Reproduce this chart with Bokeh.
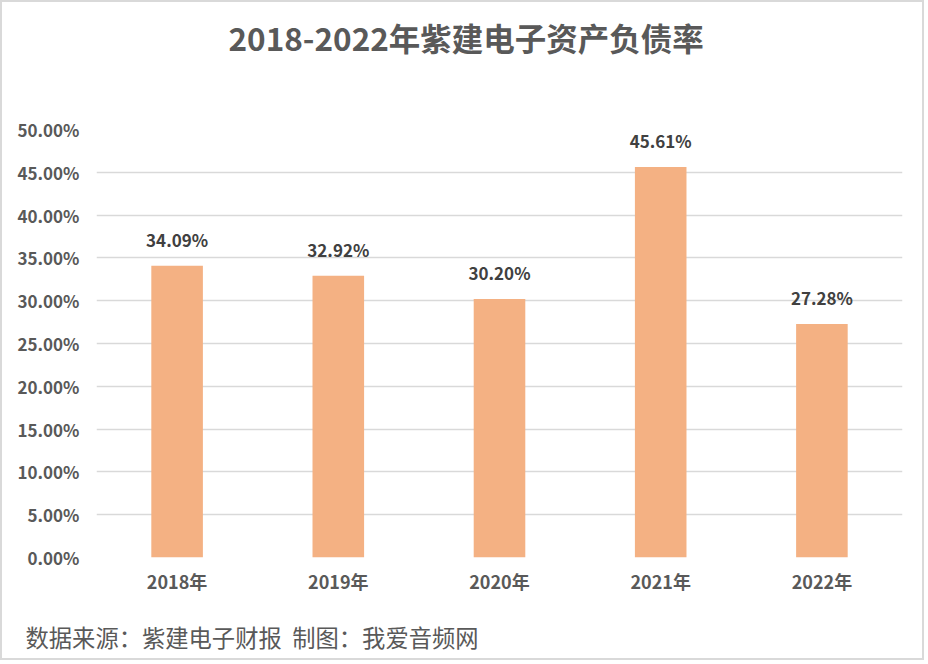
from bokeh.plotting import figure
from bokeh.models import ColumnDataSource, FixedTicker, PrintfTickFormatter, Title
from bokeh.embed import file_html
from bokeh.resources import INLINE
from bokeh.core.properties import value

years = ["2018年", "2019年", "2020年", "2021年", "2022年"]
ratios = [34.09, 32.92, 30.20, 45.61, 27.28]
y_ticks = [0, 5, 10, 15, 20, 25, 30, 35, 40, 45, 50]
title_text = "2018-2022年紫建电子资产负债率"
footer_text = "数据来源：紫建电子财报\u00a0\u00a0制图：我爱音频网"

FONT = "Noto Sans CJK SC"
AXIS_COLOR = "#595959"

src = ColumnDataSource(dict(x=years, y=ratios, label=[f"{v:.2f}%" for v in ratios]))

p = figure(width=924, height=660, x_range=years, y_range=(0, 50),
           output_backend="svg", toolbar_location=None, tools="",
           min_border_left=94, min_border_right=24, min_border_top=127, min_border_bottom=105)
p.styles = {"border": "2px solid #d9d9d9"}
p.title = None

# spacer between frame and title (nearest to the frame)
top_spacer = Title(text="\u00a0", text_font=FONT, text_font_size="1px",
                   text_color="white", standoff=67)
p.add_layout(top_spacer, "above")
title = Title(text=title_text, align="left", offset=132, vertical_align="bottom",
              text_font=FONT, text_font_size="31.5px", text_font_style="bold",
              text_color=AXIS_COLOR, standoff=0)
p.add_layout(title, "above")

p.vbar(x="x", top="y", width=0.32, source=src, fill_color="#F4B183", line_color=None)
p.text(x="x", y="y", text="label", source=src, text_align="center", text_baseline="bottom",
       y_offset=-14, text_font=value(FONT), text_font_style="bold", text_font_size="17px",
       text_color="#404040")

p.outline_line_color = None
p.xgrid.grid_line_color = None
p.ygrid.grid_line_color = "#d9d9d9"
p.ygrid.grid_line_width = 1.5
p.ygrid.ticker = FixedTicker(ticks=y_ticks)

p.yaxis.ticker = FixedTicker(ticks=y_ticks)
p.yaxis.formatter = PrintfTickFormatter(format="%.2f%%")
for ax in (p.xaxis[0], p.yaxis[0]):
    ax.axis_line_color = None
    ax.major_tick_line_color = None
    ax.minor_tick_line_color = None
    ax.major_label_text_font = FONT
    ax.major_label_text_font_style = "bold"
    ax.major_label_text_color = AXIS_COLOR
p.yaxis.major_label_text_font_size = "17px"
p.xaxis.major_label_text_font_size = "18px"
p.yaxis.major_label_standoff = 11
p.xaxis.major_label_standoff = 4

bottom_spacer = Title(text="\u00a0", text_font=FONT, text_font_size="1px",
                      text_color="white", standoff=18)
p.add_layout(bottom_spacer, "below")
footer = Title(text=footer_text, align="left", offset=-71, text_font=FONT,
               text_font_size="23.3px", text_font_style="normal", text_color=AXIS_COLOR,
               standoff=0)
p.add_layout(footer, "below")

open("out.html", "w").write(file_html(p, INLINE))
